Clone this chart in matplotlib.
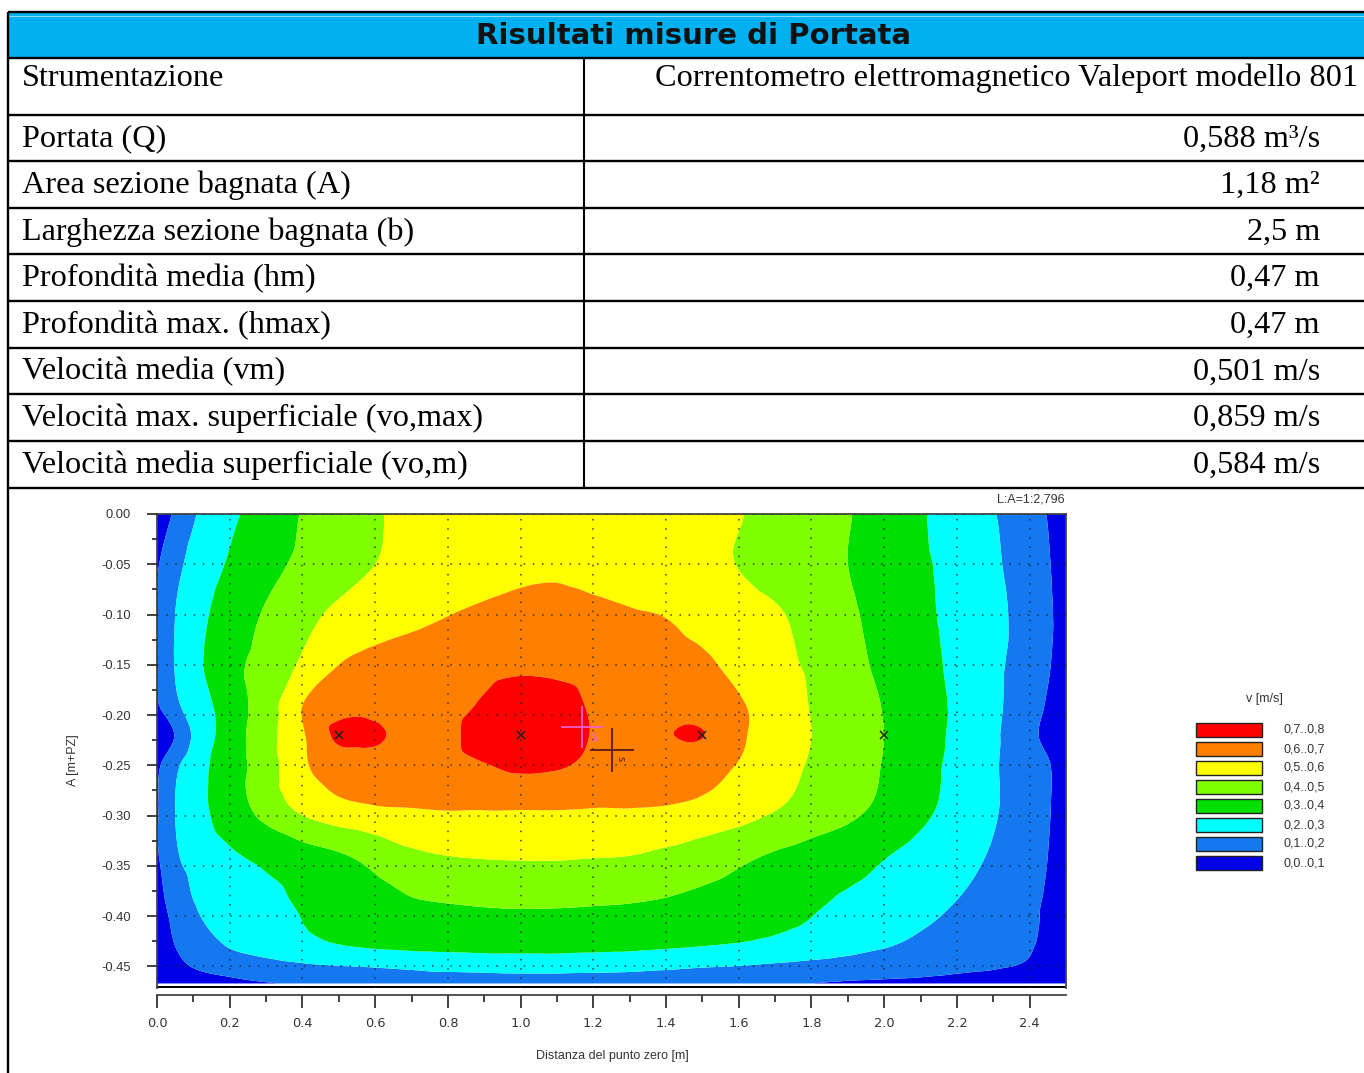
import numpy as np
import matplotlib
matplotlib.use("Agg")
import matplotlib.pyplot as plt
import matplotlib.tri as mtri
from matplotlib.patches import Rectangle

plt.rcParams["axes.unicode_minus"] = False

# ---- tabella riassuntiva ----
titolo = "Risultati misure di Portata"
strumentazione = ["Strumentazione", "Correntometro elettromagnetico Valeport modello 801"]
grandezze = [
    "Portata (Q)",
    "Area sezione bagnata (A)",
    "Larghezza sezione bagnata (b)",
    "Profondità media (hm)",
    "Profondità max. (hmax)",
    "Velocità media (vm)",
    "Velocità max. superficiale (vo,max)",
    "Velocità media superficiale (vo,m)",
]
valori = ["0,588 m³/s", "1,18 m²", "2,5 m", "0,47 m", "0,47 m",
          "0,501 m/s", "0,859 m/s", "0,584 m/s"]

# ---- campo di velocità sulla sezione [m/s] ----
distanze = [0.0, 0.05, 0.1, 0.2, 0.3, 0.4, 0.5, 0.6, 0.7, 0.8, 0.9, 1.0, 1.1, 1.2,
            1.3, 1.4, 1.5, 1.6, 1.7, 1.8, 1.9, 2.0, 2.1, 2.2, 2.3, 2.4, 2.45, 2.5]
profondita = [0.0, 0.05, 0.10, 0.15, 0.19, 0.22, 0.25, 0.29, 0.34, 0.39, 0.43, 0.45, 0.467]
velocita = [
    [0.00, 0.12, 0.19, 0.28, 0.34, 0.405, 0.45, 0.49, 0.53, 0.55, 0.565, 0.575, 0.58, 0.575,
     0.565, 0.55, 0.53, 0.505, 0.47, 0.44, 0.405, 0.36, 0.31, 0.25, 0.205, 0.13, 0.095, 0.00],
    [0.09, 0.17, 0.23, 0.31, 0.37, 0.42, 0.46, 0.50, 0.53, 0.55, 0.568, 0.58, 0.585, 0.575,
     0.565, 0.55, 0.53, 0.497, 0.465, 0.435, 0.40, 0.36, 0.315, 0.27, 0.215, 0.15, 0.11, 0.03],
    [0.095, 0.20, 0.26, 0.345, 0.41, 0.47, 0.52, 0.55, 0.575, 0.598, 0.615, 0.63, 0.635, 0.62,
     0.607, 0.597, 0.57, 0.54, 0.51, 0.47, 0.415, 0.37, 0.32, 0.275, 0.225, 0.16, 0.12, 0.04],
    [0.095, 0.205, 0.27, 0.37, 0.435, 0.515, 0.60, 0.63, 0.645, 0.66, 0.675, 0.685, 0.68, 0.67,
     0.655, 0.635, 0.615, 0.575, 0.53, 0.485, 0.43, 0.38, 0.33, 0.28, 0.22, 0.155, 0.11, 0.04],
    [0.09, 0.18, 0.24, 0.35, 0.45, 0.60, 0.66, 0.67, 0.65, 0.67, 0.71, 0.74, 0.73, 0.69,
     0.655, 0.665, 0.655, 0.61, 0.56, 0.495, 0.45, 0.395, 0.34, 0.285, 0.22, 0.14, 0.09, 0.03],
    [0.00, 0.105, 0.21, 0.35, 0.46, 0.59, 0.72, 0.715, 0.665, 0.68, 0.74, 0.77, 0.75, 0.695,
     0.66, 0.695, 0.703, 0.615, 0.56, 0.50, 0.45, 0.40, 0.345, 0.28, 0.215, 0.125, 0.07, 0.00],
    [0.08, 0.18, 0.25, 0.355, 0.45, 0.585, 0.645, 0.66, 0.66, 0.67, 0.695, 0.72, 0.71, 0.68,
     0.655, 0.645, 0.635, 0.595, 0.545, 0.49, 0.445, 0.395, 0.335, 0.275, 0.21, 0.145, 0.11, 0.03],
    [0.09, 0.20, 0.26, 0.35, 0.44, 0.53, 0.58, 0.60, 0.605, 0.61, 0.61, 0.61, 0.61, 0.605,
     0.605, 0.60, 0.585, 0.555, 0.51, 0.465, 0.43, 0.38, 0.325, 0.27, 0.21, 0.15, 0.11, 0.04],
    [0.09, 0.185, 0.235, 0.285, 0.325, 0.36, 0.39, 0.43, 0.48, 0.50, 0.507, 0.51, 0.51, 0.505,
     0.50, 0.48, 0.45, 0.42, 0.39, 0.365, 0.34, 0.305, 0.27, 0.235, 0.19, 0.14, 0.10, 0.03],
    [0.07, 0.13, 0.195, 0.22, 0.265, 0.31, 0.345, 0.37, 0.385, 0.395, 0.402, 0.405, 0.404, 0.40,
     0.395, 0.385, 0.37, 0.355, 0.33, 0.31, 0.28, 0.255, 0.225, 0.195, 0.16, 0.115, 0.085, 0.02],
    [0.04, 0.10, 0.14, 0.205, 0.24, 0.27, 0.295, 0.31, 0.32, 0.325, 0.33, 0.33, 0.33, 0.325,
     0.32, 0.31, 0.30, 0.29, 0.275, 0.26, 0.235, 0.205, 0.18, 0.155, 0.13, 0.105, 0.08, 0.02],
    [0.02, 0.07, 0.105, 0.14, 0.165, 0.185, 0.197, 0.205, 0.215, 0.225, 0.23, 0.235, 0.235, 0.23,
     0.225, 0.215, 0.205, 0.198, 0.185, 0.17, 0.155, 0.145, 0.135, 0.12, 0.108, 0.09, 0.07, 0.01],
    [0.00, 0.03, 0.05, 0.075, 0.095, 0.11, 0.13, 0.14, 0.15, 0.15, 0.15, 0.15, 0.15, 0.15,
     0.15, 0.15, 0.14, 0.125, 0.11, 0.10, 0.09, 0.085, 0.08, 0.07, 0.06, 0.04, 0.03, 0.00],
]

# verticali di misura
x_misure = [0.5, 1.0, 1.5, 2.0]
y_misure = [-0.22, -0.22, -0.22, -0.22]
centro_vs = (1.17, -0.212)
baricentro = (1.25, -0.235)

classi = [-1.0, 0.1, 0.2, 0.3, 0.4, 0.5, 0.6, 0.7, 2.0]
colori = ["#0000E6", "#1478F0", "#00FFFF", "#00E000",
          "#80FF00", "#FFFF00", "#FF8000", "#FF0000"]
etichette_classi = ["0,0..0,1", "0,1..0,2", "0,2..0,3", "0,3..0,4",
                    "0,4..0,5", "0,5..0,6", "0,6..0,7", "0,7..0,8"]

W, H = 1364, 1073
fig = plt.figure(figsize=(W / 100, H / 100), dpi=100)

# ---- foglio (coordinate in pixel) ----
tav = fig.add_axes([0, 0, 1, 1])
tav.set_xlim(0, W)
tav.set_ylim(H, 0)
tav.axis("off")

tav.add_patch(Rectangle((8, 12), W, 46, facecolor="#00B0F0", edgecolor="none"))
tav.hlines(15.5, 8, W, color="#8FDCF8", lw=0.8)
serif = "Liberation Serif"
tav.text(693, 36, titolo, ha="center", va="center", fontsize=21,
         fontweight="bold", family="DejaVu Sans", color="#111111")

righe = [12, 58, 115, 161, 208, 254, 301, 348, 394, 441, 488]
tav.hlines(righe, 8, W, color="black", lw=1.7)
tav.vlines(8, 12, H, color="black", lw=1.7)
tav.vlines(584, 58, 488, color="black", lw=1.5)

fs = 23.2
tav.text(22, 78, strumentazione[0], ha="left", va="center", fontsize=fs, family=serif)
tav.text(1358, 78, strumentazione[1], ha="right", va="center", fontsize=fs, family=serif)
for i, (g, v) in enumerate(zip(grandezze, valori)):
    yc = (righe[i + 2] + righe[i + 3]) / 2 + 1
    tav.text(22, yc, g, ha="left", va="center", fontsize=fs, family=serif)
    tav.text(1320, yc, v, ha="right", va="center", fontsize=fs, family=serif)

# ---- sezione con isotachie ----
x0, x1, ytop, ybot = 157, 1066, 514, 988
ax = fig.add_axes([x0 / W, 1 - ybot / H, (x1 - x0) / W, (ybot - ytop) / H])

X, D = np.meshgrid(distanze, profondita)
V = np.array(velocita)
tri = mtri.Triangulation(X.ravel(), -D.ravel())
interp = mtri.CubicTriInterpolator(tri, V.ravel(), kind="geom")
tri_fine, v_fine = mtri.UniformTriRefiner(tri).refine_field(V.ravel(), triinterpolator=interp, subdiv=3)
ax.tricontourf(tri_fine, v_fine, levels=classi, colors=colori, antialiased=True)

ax.axhline(-0.4705, color="black", lw=2.2)
ax.plot(x_misure, y_misure, "x", color="#222222", ms=6, mew=1.1)
ax.plot(*centro_vs, "+", color="#F060C8", ms=30, mew=1.3)
ax.text(centro_vs[0] + 0.015, centro_vs[1] - 0.004, "vs", color="#F060C8", fontsize=7,
        va="top", ha="left", rotation=-90)
ax.plot(*baricentro, "+", color="#5A1A1A", ms=32, mew=1.3)
ax.text(baricentro[0] + 0.012, baricentro[1] - 0.006, "s", color="#5A1A1A", fontsize=7,
        va="top", ha="left", rotation=-90)

ax.set_xlim(0, 2.5)
ax.set_ylim(-0.4715, 0.0)
ax.set_xticks(np.arange(0, 2.41, 0.2))
ax.set_xticks(np.arange(0.1, 2.5, 0.2), minor=True)
ax.set_yticks(np.arange(0, -0.451, -0.05))
ax.set_yticks(np.arange(-0.025, -0.47, -0.05), minor=True)
ax.xaxis.set_major_formatter(matplotlib.ticker.FormatStrFormatter("%.1f"))
ax.yaxis.set_major_formatter(matplotlib.ticker.FormatStrFormatter("%.2f"))
ax.grid(True, which="major", color="#222222", lw=1.1, linestyle=(0, (1, 5)), alpha=0.85)
ax.set_axisbelow(False)

sans = "Liberation Sans"
ax.tick_params(axis="both", which="both", direction="out", color="#333333",
               labelcolor="#333333", labelsize=9.3, width=1.3)
ax.tick_params(axis="y", which="major", length=7, pad=12)
ax.tick_params(axis="y", which="minor", length=3.6)
ax.tick_params(axis="x", which="major", length=9, pad=7)
ax.tick_params(axis="x", which="minor", length=5)
for lab in ax.get_xticklabels() + ax.get_yticklabels():
    lab.set_family(sans)
ax.spines["bottom"].set_position(("outward", 5))
for s in ["top", "left", "right", "bottom"]:
    ax.spines[s].set_color("#444444")
    ax.spines[s].set_linewidth(1.3)

tav.text(73, 760, "A [m+PZ]", rotation=90, ha="center", va="center",
         fontsize=9, family=sans, color="#333333")
tav.text(612, 1056, "Distanza del punto zero [m]", ha="center", va="center",
         fontsize=9, family=sans, color="#333333")
tav.text(1065, 500, "L:A=1:2,796", ha="right", va="center",
         fontsize=9, family=sans, color="#333333")

# ---- legenda ----
tav.text(1264, 699, "v [m/s]", ha="center", va="center", fontsize=9, family=sans, color="#333333")
for k, (c, lab) in enumerate(zip(colori[::-1], etichette_classi[::-1])):
    yb = 723 + 19 * k
    tav.add_patch(Rectangle((1196, yb), 66, 14, facecolor=c, edgecolor="#222222", lw=1.0))
    tav.text(1283, yb + 7, lab, ha="left", va="center", fontsize=9, family=sans, color="#333333")

fig.savefig("out.png", dpi=100)
